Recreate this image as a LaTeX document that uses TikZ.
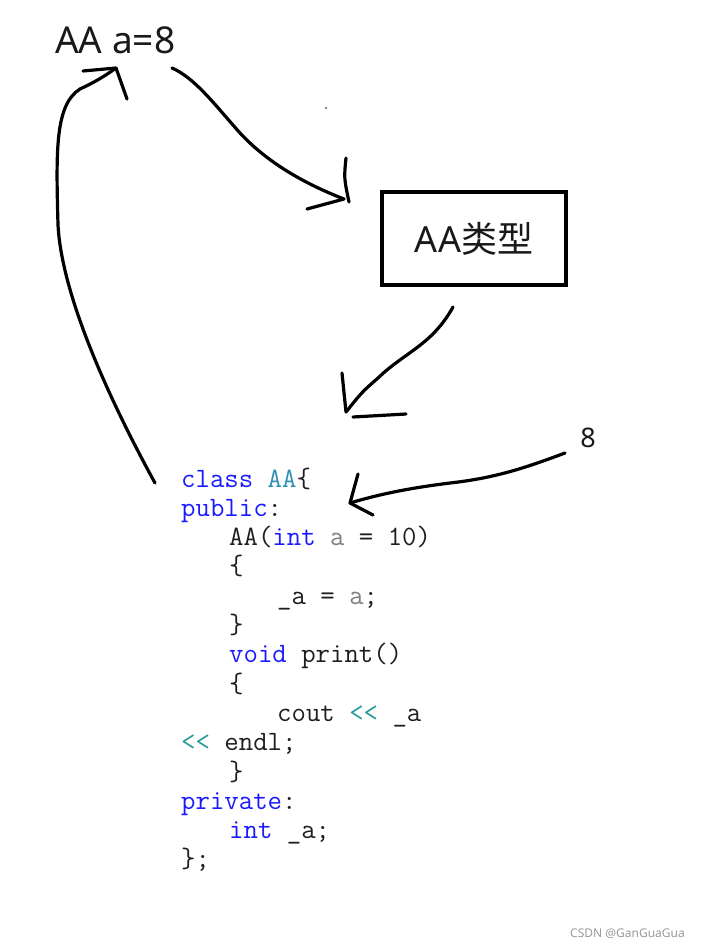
\documentclass[tikz,border=0pt]{standalone}
\usepackage{fontspec}
\usepackage{xcolor}
\usepackage{tikz}
\newfontfamily\cjk{Noto Sans CJK SC}
\newfontfamily\uisans{Noto Sans}
\definecolor{kwblue}{HTML}{1A1AFF}
\definecolor{typeteal}{HTML}{2B91AF}
\definecolor{opteal}{HTML}{2B9A9A}
\definecolor{parmgrey}{HTML}{808080}
\definecolor{codeink}{HTML}{1E1E1E}
\newcommand{\kw}[1]{\textcolor{kwblue}{#1}}
\newcommand{\shl}{\textcolor{opteal}{<{}<}}

\begin{document}
\begin{tikzpicture}[x=1pt,y=-1pt,
    ink/.style={line width=3.2pt,line cap=round,line join=round},
    codeline/.style={anchor=base west,inner sep=0pt,text=codeink,
      font=\fontsize{28}{30}\selectfont\ttfamily},
    lbl/.style={inner sep=0pt,text=black!90,font=\uisans}]
    \useasboundingbox (0,0) rectangle (703,946);
    % labels
    \node[lbl,anchor=base west,font=\uisans\fontsize{37}{39}\selectfont] (decl) at (55,53) {AA a=8};
    \node[lbl,draw,line width=4pt,minimum width=184pt,minimum height=93pt,
          font=\uisans\fontsize{36}{38}\selectfont] (typebox) at (474,238.5) {AA{\cjk 类型}};
    \node[lbl,anchor=base,font=\uisans\fontsize{27}{30}\selectfont] (eight) at (588,447) {8};
    % code
    \node[codeline] (c0) at (181,487) {\kw{class} \textcolor{typeteal}{AA}\{};
    \node[codeline] (c1) at (181,516.3) {\kw{public}:};
    \node[codeline] (c2) at (229,545.6) {AA(\kw{int} \textcolor{parmgrey}{a} = 10)};
    \node[codeline] (c3) at (229,574.9) {\{};
    \node[codeline] (c4) at (277,604.2) {\_a = \textcolor{parmgrey}{a};};
    \node[codeline] (c5) at (229,633.5) {\}};
    \node[codeline] (c6) at (229,662.8) {\kw{void} print()};
    \node[codeline] (c7) at (229,692.1) {\{};
    \node[codeline] (c8) at (277,721.4) {cout \shl{} \_a};
    \node[codeline] (c9) at (181,750.7) {\shl{} endl;};
    \node[codeline] (c10) at (229,780) {\}};
    \node[codeline] (c11) at (181,809.3) {\kw{private}:};
    \node[codeline] (c12) at (229,838.6) {\kw{int} \_a;};
    \node[codeline] (c13) at (181,867.9) {\};};
    % hand-drawn strokes
    \coordinate (loopS) at (155,483);
    \coordinate (loopE) at (116,68);
    \coordinate (toboxS) at (172,68);
    \coordinate (toboxE) at (344,199);
    \coordinate (tocodeS) at (453,307);
    \coordinate (tocodeE) at (346,412);
    \coordinate (eightS) at (565,453);
    \coordinate (eightE) at (350,503);
    \draw[ink] (loopS) .. controls (115,410) and (62,300) .. (58,225)
        .. controls (56,150) and (55,105) .. (80,89) .. controls (95,82) and (105,76) .. (loopE);
    \draw[ink] (83,71) -- (loopE) -- (127,99);
    \draw[ink] (toboxS) .. controls (195,78) and (215,105) .. (240,133)
        .. controls (265,160) and (300,182) .. (toboxE);
    \draw[ink] (307,209) -- (toboxE);
    \draw[ink] (346,158) .. controls (344,178) .. (349,202);
    \draw[ink] (tocodeS) .. controls (432,345) and (405,352) .. (378,378)
        .. controls (362,392) .. (tocodeE);
    \draw[ink] (342,373) -- (tocodeE);
    \draw[ink] (353,417) -- (406,414);
    \draw[ink] (eightS) .. controls (525,468) and (495,478) .. (450,483)
        .. controls (410,488) and (380,494) .. (eightE);
    \draw[ink] (358,474) -- (eightE) -- (373,515);
    \fill (326,108) circle (0.9pt);
    % watermark
    \node[anchor=base east,inner sep=0pt,text=black!40,font=\uisans\fontsize{12}{13}\selectfont] (wm) at (685,937) {CSDN @GanGuaGua};
\end{tikzpicture}
\end{document}
